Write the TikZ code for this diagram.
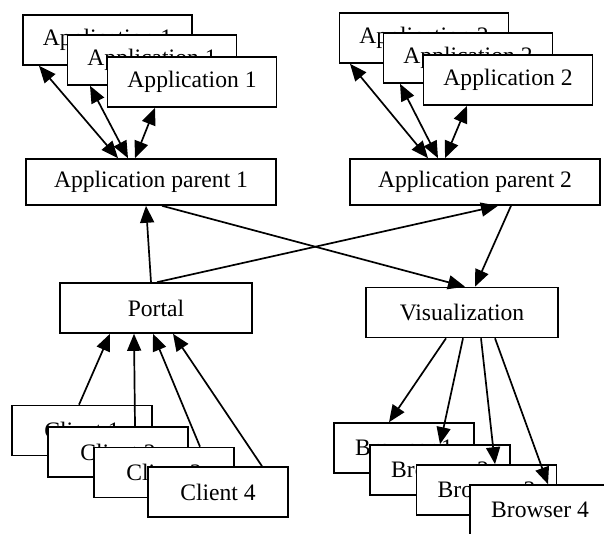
\documentclass[tikz,border=0pt]{standalone}
\usepackage{fontspec}
\setmainfont{Liberation Serif}
\usetikzlibrary{arrows.meta,calc}

\tikzset{
  box/.style={draw, fill=white, line width=0.8pt, inner sep=0pt,
    font=\fontsize{11.8}{14}\selectfont},
  appbox/.style={box, minimum width=84.5pt, minimum height=25pt},
  parentbox/.style={box, minimum width=125pt, minimum height=23pt},
  midbox/.style={box, minimum width=96pt, minimum height=25pt},
  endbox/.style={box, minimum width=70pt, minimum height=25pt},
  link/.style={line width=0.85pt, -{Triangle[length=8.5pt,width=7pt]}},
  duplex/.style={line width=0.85pt, {Triangle[length=8.5pt,width=7pt]}-{Triangle[length=8.5pt,width=7pt]}}
}

\begin{document}
\begin{tikzpicture}[x=0.5pt,y=-0.5pt]
\useasboundingbox (0,0) rectangle (604,534);

% application stacks
\node[appbox] (a1a) at (107.5,40) {Application 1};
\node[appbox] (a1b) at (152,60)   {Application 1};
\node[appbox] (a1c) at (192,82)   {Application 1};
\node[appbox] (a2a) at (424,38)   {Application 2};
\node[appbox] (a2b) at (468,58)   {Application 2};
\node[appbox] (a2c) at (508,80)   {Application 2};

\node[parentbox] (p1) at (151,182) {Application parent 1};
\node[parentbox] (p2) at (475,182) {Application parent 2};

\node[midbox] (portal) at (156,308)   {Portal};
\node[midbox] (vis)    at (462,312.5) {Visualization};

% clients
\node[endbox] (c1) at (82,430.5) {Client 1};
\node[endbox] (c2) at (118,452)  {Client 2};
\node[endbox] (c3) at (164,472.5) {Client 3};
\node[endbox] (c4) at (218,492)  {Client 4};

% browsers
\node[endbox] (b1) at (404,448)   {Browser 1};
\node[endbox] (b2) at (440,470)   {Browser 2};
\node[endbox] (b3) at (486.5,490) {Browser 3};
\node[endbox] (b4) at (540,510)   {Browser 4};

% parents to applications
\draw[duplex] ($(p1.north)+(-33,0)$) -- ($(a1a.south)+(-68.5,0)$);
\draw[duplex] ($(p1.north)+(-23,0)$) -- ($(a1b.south)+(-62,0)$);
\draw[duplex] ($(p1.north)+(-16,0)$) -- ($(a1c.south)+(-37,0)$);
\draw[duplex] ($(p2.north)+(-47,0)$) -- ($(a2a.south)+(-74,0)$);
\draw[duplex] ($(p2.north)+(-37,0)$) -- ($(a2b.south)+(-68,0)$);
\draw[duplex] ($(p2.north)+(-30,0)$) -- ($(a2c.south)+(-41,0)$);

% middle layer
\draw[link] ($(portal.north)+(-5,0)$) -- ($(p1.south)+(-5,0)$);
\draw[link] ($(portal.north)+(1,0)$) -- ($(p2.south)+(23,0)$);
\draw[link] ($(p1.south)+(11,0)$) -- ($(vis.north)+(3,0)$);
\draw[link] ($(p2.south)+(36,0)$) -- ($(vis.north)+(13,0)$);

% clients to portal
\draw[link] ($(c1.north)+(-3,0)$) -- ($(portal.south)+(-46,0)$);
\draw[link] ($(c2.north)+(17,0)$) -- ($(portal.south)+(-22,0)$);
\draw[link] ($(c3.north)+(36,0)$) -- ($(portal.south)+(-3,0)$);
\draw[link] ($(c4.north)+(44,0)$) -- ($(portal.south)+(17,0)$);

% visualization to browsers
\draw[link] ($(vis.south)+(-16,0)$) -- ($(b1.north)+(-15,0)$);
\draw[link] ($(vis.south)+(1,0)$)   -- ($(b2.north)+(0,0)$);
\draw[link] ($(vis.south)+(19,0)$)  -- ($(b3.north)+(8.5,0)$);
\draw[link] ($(vis.south)+(33,0)$)  -- ($(b4.north)+(8,0)$);
\end{tikzpicture}
\end{document}
